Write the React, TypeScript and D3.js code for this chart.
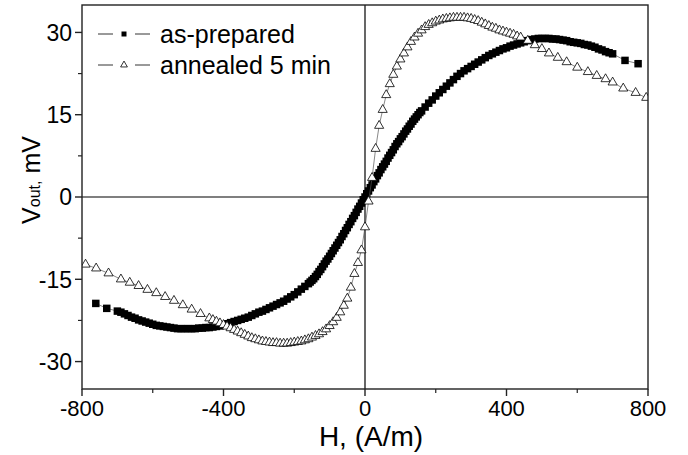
import React from 'react';
import * as d3 from 'd3';

// H field (A/m) and output voltage (mV)
const asPreparedH = [
  -761, -730, -700, -690, -680, -670, -660, -650, -640, -630, -620, -610, -600, -590, -580, -570, -560, -550,
  -540, -530, -520, -510, -500, -490, -480, -470, -460, -450, -440, -430, -420, -410, -400, -390, -380, -370,
  -360, -350, -340, -330, -320, -310, -300, -290, -280, -270, -260, -250, -240, -230, -220, -210, -200, -190,
  -180, -170, -160, -155, -150, -145, -140, -135, -130, -125, -120, -115, -110, -105, -100, -95, -90, -85, -80,
  -75, -70, -65, -60, -55, -50, -45, -40, -35, -30, -25, -20, -15, -10, -5, 0, 5, 10, 15, 20, 25, 30, 35, 40,
  45, 50, 55, 60, 65, 70, 75, 80, 85, 90, 95, 100, 105, 110, 115, 120, 125, 130, 135, 140, 145, 150, 155, 160,
  170, 180, 190, 200, 210, 220, 230, 240, 250, 260, 270, 280, 290, 300, 310, 320, 330, 340, 350, 360, 370, 380,
  390, 400, 410, 420, 430, 440, 450, 460, 470, 480, 490, 500, 510, 520, 530, 540, 550, 560, 570, 580, 590, 600,
  610, 620, 630, 640, 650, 660, 670, 680, 690, 700, 735, 772
];
const asPreparedV = [
  -19.4, -20.3, -20.8, -21.0, -21.3, -21.6, -21.9, -22.1, -22.4, -22.6, -22.8, -23.0, -23.2, -23.4, -23.5, -23.6, -23.7, -23.8,
  -23.9, -24.0, -24.0, -24.0, -24.0, -24.0, -24.0, -23.9, -23.9, -23.8, -23.8, -23.7, -23.6, -23.5, -23.3, -23.1, -22.9, -22.7,
  -22.5, -22.3, -22.1, -21.9, -21.6, -21.3, -21.0, -20.8, -20.5, -20.2, -19.9, -19.6, -19.3, -19.0, -18.6, -18.2, -17.8, -17.3,
  -16.8, -16.3, -15.8, -15.5, -15.2, -14.9, -14.5, -14.1, -13.6, -13.2, -12.7, -12.2, -11.7, -11.3, -10.8, -10.3, -9.8, -9.3, -8.8,
  -8.3, -7.8, -7.2, -6.7, -6.1, -5.6, -5.0, -4.5, -3.9, -3.4, -2.8, -2.2, -1.7, -1.1, -0.5, 0.0, 0.6, 1.1, 1.7, 2.2, 2.8, 3.3, 3.9, 4.4,
  5.0, 5.5, 6.0, 6.5, 7.1, 7.6, 8.1, 8.6, 9.2, 9.7, 10.1, 10.6, 11.0, 11.5, 12.0, 12.4, 12.9, 13.3, 13.8, 14.2, 14.6, 15.0, 15.4, 15.7,
  16.4, 17.1, 17.7, 18.4, 19.0, 19.6, 20.2, 20.8, 21.4, 22.0, 22.5, 23.0, 23.4, 23.8, 24.2, 24.6, 25.0, 25.4, 25.8, 26.1, 26.4, 26.7,
  27.0, 27.2, 27.5, 27.7, 27.9, 28.1, 28.3, 28.5, 28.7, 28.8, 28.9, 28.9, 28.9, 28.9, 28.8, 28.8, 28.7, 28.6, 28.5, 28.3, 28.2, 28.1,
  28.0, 27.8, 27.7, 27.5, 27.3, 27.0, 26.8, 26.5, 26.3, 26.1, 24.9, 24.3
];

const annealedH = [
  -790, -760, -725, -690, -665, -640, -615, -590, -565, -540, -515, -490, -465, -440, -430, -420, -410, -400,
  -390, -380, -370, -360, -350, -340, -330, -320, -310, -300, -290, -280, -270, -260, -250, -240, -230, -220,
  -210, -200, -190, -180, -170, -160, -150, -140, -130, -120, -110, -100, -90, -80, -70, -60, -50, -40, -30,
  -20, -10, 0, 10, 20, 30, 40, 50, 60, 70, 80, 90, 100, 110, 120, 130, 140, 150, 160, 170, 180, 190, 200, 210,
  220, 230, 240, 250, 260, 270, 280, 290, 300, 310, 320, 330, 340, 350, 360, 370, 380, 390, 400, 410, 420, 430,
  440, 460, 480, 500, 520, 545, 570, 600, 630, 655, 680, 700, 730, 765, 795
];
const annealedV = [
  -12.3, -13.0, -13.9, -15.0, -15.6, -16.2, -16.9, -17.5, -18.2, -18.9, -19.7, -20.5, -21.3, -22.1, -22.4, -22.7, -23.0, -23.3,
  -23.6, -23.9, -24.2, -24.5, -24.8, -25.1, -25.4, -25.7, -25.9, -26.1, -26.3, -26.4, -26.5, -26.6, -26.6, -26.7, -26.7, -26.7,
  -26.6, -26.5, -26.4, -26.3, -26.1, -25.9, -25.6, -25.3, -25.0, -24.6, -24.1, -23.5, -22.8, -22.0, -21.0, -19.8, -18.5, -16.5, -14.0,
  -12.0, -9.7, -5.5, -0.8, 3.5, 8.8, 13.0, 15.9, 18.6, 20.6, 22.3, 23.8, 25.1, 26.2, 27.3, 28.3, 29.1, 29.8, 30.4, 31.0, 31.4, 31.7, 32.0, 32.2,
  32.4, 32.5, 32.6, 32.7, 32.7, 32.7, 32.7, 32.6, 32.5, 32.3, 32.1, 31.8, 31.5, 31.2, 30.9, 30.7, 30.4, 30.2, 30.0, 29.8, 29.6, 29.3,
  29.1, 28.5, 27.7, 27.0, 26.2, 25.4, 24.6, 23.6, 22.8, 22.1, 21.5, 20.9, 19.8, 19.0, 18.1
];

const xTicks = [-800, -400, 0, 400, 800];
const xMinorTicks = [-600, -200, 200, 600];
const yTicks = [-30, -15, 0, 15, 30];
const yMinorTicks = [-22.5, -7.5, 7.5, 22.5];
const seriesNames = ['as-prepared', 'annealed 5 min'];

const W = 688;
const H = 455;
const margin = { top: 5, right: 40, bottom: 66, left: 82 };
const innerW = W - margin.left - margin.right;
const innerH = H - margin.top - margin.bottom;
const FONT = 'Arial, "Liberation Sans", Helvetica, sans-serif';

const App = () => {
  const x = d3.scaleLinear().domain([-800, 800]).range([0, innerW]);
  const y = d3.scaleLinear().domain([-35, 35]).range([innerH, 0]);

  const asPrepared = asPreparedH.map((h, i) => [h, asPreparedV[i]] as [number, number]);
  const annealed = annealedH.map((h, i) => [h, annealedV[i]] as [number, number]);

  const line = d3.line<[number, number]>().x(d => x(d[0])).y(d => y(d[1]));
  const square = d3.symbol(d3.symbolSquare, 56)();
  const triangle = d3.symbol(d3.symbolTriangle, 36)();

  return (
    <svg width={W} height={H} style={{ position: 'absolute', left: 0, top: 0, background: '#fff', fontFamily: FONT }}>
      <defs>
        <clipPath id="plot-clip">
          <rect x={0} y={0} width={innerW} height={innerH} />
        </clipPath>
      </defs>
      <g transform={`translate(${margin.left},${margin.top})`}>
        {/* zero lines */}
        <line x1={0} x2={innerW} y1={y(0)} y2={y(0)} stroke="#000" strokeWidth={1.2} />
        <line x1={x(0)} x2={x(0)} y1={0} y2={innerH} stroke="#000" strokeWidth={1.2} />

        <g clipPath="url(#plot-clip)">
          <path d={line(asPrepared) ?? ''} fill="none" stroke="#555" strokeWidth={0.7} />
          {asPrepared.map((d, i) => (
            <path key={`s-${i}`} d={square ?? ''} transform={`translate(${x(d[0])},${y(d[1])})`} fill="#000" />
          ))}
          <path d={line(annealed) ?? ''} fill="none" stroke="#555" strokeWidth={0.7} />
          {annealed.map((d, i) => (
            <path key={`t-${i}`} d={triangle ?? ''} transform={`translate(${x(d[0])},${y(d[1])})`}
              fill="#fff" stroke="#000" strokeWidth={0.8} />
          ))}
        </g>

        {/* frame */}
        <rect x={0} y={0} width={innerW} height={innerH} fill="none" stroke="#222" strokeWidth={1.4} />

        {/* x axis ticks */}
        {xTicks.map(t => (
          <g key={`xt-${t}`} transform={`translate(${x(t)},${innerH})`}>
            <line y1={0} y2={7} stroke="#222" strokeWidth={1.4} />
            <text y={27} textAnchor="middle" fontSize={22} fill="#000">{t}</text>
          </g>
        ))}
        {xMinorTicks.map(t => (
          <line key={`xm-${t}`} x1={x(t)} x2={x(t)} y1={innerH} y2={innerH + 4} stroke="#222" strokeWidth={1.2} />
        ))}

        {/* y axis ticks */}
        {yTicks.map(t => (
          <g key={`yt-${t}`} transform={`translate(0,${y(t)})`}>
            <line x1={0} x2={-7} stroke="#222" strokeWidth={1.4} />
            <text x={-10} dy="0.36em" textAnchor="end" fontSize={23} fill="#000">{t}</text>
          </g>
        ))}
        {yMinorTicks.map(t => (
          <line key={`ym-${t}`} x1={0} x2={-4} y1={y(t)} y2={y(t)} stroke="#222" strokeWidth={1.2} />
        ))}

        {/* axis titles */}
        <text x={x(0) + 6} y={innerH + 57} textAnchor="middle" fontSize={28} fill="#000">H, (A/m)</text>
        <text transform={`translate(${40 - margin.left},${180 - margin.top}) rotate(-90)`} textAnchor="middle" fontSize={25} fill="#000">
          V<tspan fontSize={16}>out</tspan><tspan fontSize={16}>,</tspan> mV
        </text>

        {/* legend */}
        <g transform={`translate(${98 - margin.left},${34 - margin.top})`}>
          <line x1={0} x2={15} stroke="#000" strokeWidth={0.8} />
          <line x1={37} x2={52} stroke="#000" strokeWidth={0.8} />
          <path d={d3.symbol(d3.symbolSquare, 25)() ?? ''} transform="translate(26,0)" fill="#000" />
          <text x={62} dy="0.36em" fontSize={25} fill="#000">{seriesNames[0]}</text>
        </g>
        <g transform={`translate(${98 - margin.left},${65 - margin.top})`}>
          <line x1={0} x2={15} stroke="#000" strokeWidth={0.8} />
          <line x1={37} x2={52} stroke="#000" strokeWidth={0.8} />
          <path d={d3.symbol(d3.symbolTriangle, 20)() ?? ''} transform="translate(26,0)" fill="#fff" stroke="#000" strokeWidth={0.8} />
          <text x={62} dy="0.36em" fontSize={25} fill="#000">{seriesNames[1]}</text>
        </g>
      </g>
    </svg>
  );
};

export default App;
